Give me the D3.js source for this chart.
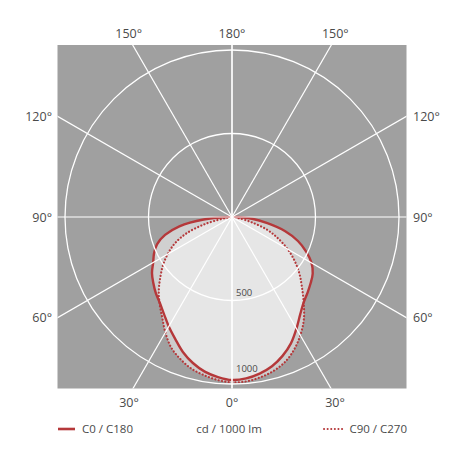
<!DOCTYPE html>
<html>
<head>
<meta charset="utf-8">
<script src="https://cdn.jsdelivr.net/npm/d3@7"></script>
<style>
  html, body { margin: 0; padding: 0; background: #fff; }
  text { font-family: "Open Sans", sans-serif; fill: #4a4a4a; }
</style>
</head>
<body>
<svg id="chart"></svg>
<script>
const WIDTH = 458;
const HEIGHT = 458;
const PLOT = { x: 57.5, y: 45, w: 349, h: 343.5 };
const CENTER = { x: 232, y: 217 };
const RED = "#b5383a";

// gamma angles (0 = nadir) and intensities in cd / 1000 lm
const gammas = [0, 5, 10, 15, 20, 25, 30, 35, 40, 45, 50, 55, 60, 65, 70, 75, 80, 85, 90];
const c0   = [976, 970, 952, 925, 885, 835, 772, 712, 668, 640, 615, 590, 550, 490, 420, 330, 215, 120, 20];
const c180 = [976, 962, 940, 905, 860, 805, 757, 710, 672, 645, 615, 585, 545, 515, 478, 415, 320, 170, 20];
const c90  = [990, 988, 975, 955, 925, 878, 818, 750, 668, 592, 527, 458, 385, 305, 225, 120, 45, 15, 0];
const c270 = [985, 980, 962, 940, 905, 862, 798, 730, 675, 620, 560, 505, 445, 380, 295, 175, 55, 15, 0];

const gridAngles = [0, 30, 60, 90, 120, 150, 180];
const ringValues = [500, 1000];
const legendLabels = ["C0 / C180", "cd / 1000 lm", "C90 / C270"];

const r = d3.scaleLinear().domain([0, 1000]).range([0, 167]);

const svg = d3.select("#chart").attr("width", WIDTH).attr("height", HEIGHT);

svg.append("defs").append("clipPath").attr("id", "plot-clip")
  .append("rect")
  .attr("x", PLOT.x).attr("y", PLOT.y).attr("width", PLOT.w).attr("height", PLOT.h);

svg.append("rect")
  .attr("x", PLOT.x).attr("y", PLOT.y)
  .attr("width", PLOT.w).attr("height", PLOT.h)
  .attr("fill", "#a0a0a0");

const g = svg.append("g")
  .attr("transform", `translate(${CENTER.x},${CENTER.y})`);

// build a closed outline: right half then left half
function outline(right, left) {
  const pts = [];
  for (let i = gammas.length - 1; i >= 0; i--) pts.push([Math.PI - gammas[i] * Math.PI / 180, r(right[i])]);
  for (let i = 1; i < gammas.length; i++) pts.push([Math.PI + gammas[i] * Math.PI / 180, r(left[i])]);
  return pts;
}

const line = d3.lineRadial().curve(d3.curveCatmullRom.alpha(0.5));

const solid = outline(c0, c180);
const dotted = outline(c90, c270);

g.append("path").attr("d", line(solid) + "Z").attr("fill", "#fff").attr("fill-opacity", 0.5);
g.append("path").attr("d", line(dotted) + "Z").attr("fill", "#fff").attr("fill-opacity", 0.48);

// grid
const grid = svg.append("g").attr("clip-path", "url(#plot-clip)")
  .append("g").attr("transform", `translate(${CENTER.x},${CENTER.y})`);

gridAngles.forEach((a) => {
  const rad = a * Math.PI / 180;
  [1, -1].forEach((side) => {
    grid.append("line")
      .attr("x1", 0).attr("y1", 0)
      .attr("x2", side * 400 * Math.sin(rad))
      .attr("y2", 400 * Math.cos(rad))
      .attr("stroke", "#fff").attr("stroke-width", 1.2);
  });
});

grid.selectAll("circle")
  .data(ringValues)
  .enter()
  .append("circle")
  .attr("r", (d) => r(d))
  .attr("fill", "none")
  .attr("stroke", "#fff")
  .attr("stroke-width", 1.3);

// value labels sit inside the light area, just above the nadir
g.selectAll(".ring-label")
  .data(ringValues)
  .enter()
  .append("text")
  .attr("class", "ring-label")
  .attr("x", 4)
  .attr("y", (d) => d >= 1000 ? r(d) - 12.5 : r(d) - 5)
  .attr("font-size", 9.5)
  .attr("fill", "#555")
  .text((d) => d);

// curves
g.append("path").attr("d", line(dotted) + "Z")
  .attr("fill", "none").attr("stroke", RED)
  .attr("stroke-width", 2.2).attr("stroke-linecap", "round")
  .attr("stroke-dasharray", "0.1 3.3");

g.append("path").attr("d", line(solid) + "Z")
  .attr("fill", "none").attr("stroke", RED)
  .attr("stroke-width", 2.4).attr("stroke-linejoin", "round");

// angle labels where the radial lines leave the plot
const halfW = PLOT.w / 2, spanTop = CENTER.y - PLOT.y, spanBottom = PLOT.y + PLOT.h - CENTER.y;
const labels = [];
gridAngles.forEach((a) => {
  const rad = a * Math.PI / 180;
  const sides = (a === 0 || a === 180) ? [1] : [1, -1];
  sides.forEach((side) => {
    const dx = Math.sin(rad), dy = Math.cos(rad);
    const limitY = dy > 1e-9 ? spanBottom / dy : dy < -1e-9 ? spanTop / -dy : Infinity;
    const limitX = dx > 1e-9 ? halfW / dx : Infinity;
    if (limitY <= limitX) {
      const t = limitY;
      labels.push({ a, x: CENTER.x + side * (t * dx + (dx > 1e-9 ? 4 : 0)), y: dy > 0 ? PLOT.y + PLOT.h + 18.5 : PLOT.y - 7.5, anchor: "middle" });
    } else {
      const t = limitX;
      labels.push({ a, x: side > 0 ? PLOT.x + PLOT.w + 6.5 : PLOT.x - 5.5, y: CENTER.y + t * dy + 4.5, anchor: side > 0 ? "start" : "end" });
    }
  });
});

svg.selectAll(".angle-label")
  .data(labels)
  .enter()
  .append("text")
  .attr("class", "angle-label")
  .attr("x", (d) => d.x)
  .attr("y", (d) => d.y)
  .attr("text-anchor", (d) => d.anchor)
  .attr("font-size", 12.5)
  .text((d) => d.a + "°");

// legend
const legend = svg.append("g").attr("font-size", 11.5);
legend.append("line").attr("x1", 58).attr("x2", 75).attr("y1", 429).attr("y2", 429)
  .attr("stroke", RED).attr("stroke-width", 2.6);
legend.append("text").attr("x", 82).attr("y", 433).text(legendLabels[0]);
legend.append("text").attr("x", 229).attr("y", 433).attr("text-anchor", "middle").text(legendLabels[1]);
legend.append("line").attr("x1", 324).attr("x2", 345).attr("y1", 429).attr("y2", 429)
  .attr("stroke", RED).attr("stroke-width", 2).attr("stroke-linecap", "round")
  .attr("stroke-dasharray", "0.1 3.5");
legend.append("text").attr("x", 407).attr("y", 433).attr("text-anchor", "end").text(legendLabels[2]);
</script>
</body>
</html>
